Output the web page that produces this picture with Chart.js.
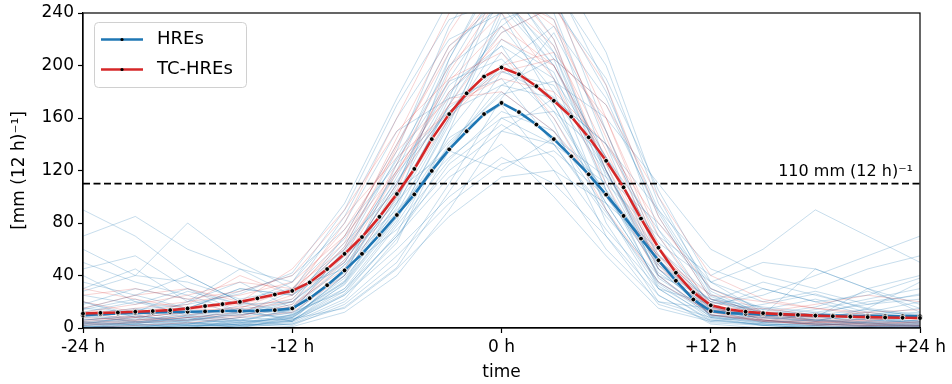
<!DOCTYPE html>
<html>
<head>
<meta charset="utf-8">
<script src="https://cdn.jsdelivr.net/npm/chart.js@4.4.1/dist/chart.umd.min.js"></script>
<style>
  html, body { margin: 0; padding: 0; background: #fff; }
  #wrap { width: 952px; height: 384px; }
</style>
</head>
<body>
<div id="wrap"><canvas id="rainChart"></canvas></div>
<script>
// hourly composite, -24 h .. +24 h
const hours = [-24, -23, -22, -21, -20, -19, -18, -17, -16, -15, -14, -13, -12,
  -11, -10, -9, -8, -7, -6, -5, -4, -3, -2, -1, 0,
  1, 2, 3, 4, 5, 6, 7, 8, 9, 10, 11, 12,
  13, 14, 15, 16, 17, 18, 19, 20, 21, 22, 23, 24];

const hres = [9.7, 10.5, 11, 11.5, 11.8, 12.2, 12.4, 12.6, 12.9, 12.9, 13.1, 13.6, 14.9,
  22.7, 32.6, 43.9, 56.5, 70.9, 86.1, 101.8, 119.7, 136.1, 149.9, 163, 171.5,
  164.5, 155, 143.9, 130.8, 117.1, 101.6, 85.4, 68.1, 51.6, 36, 21.7, 12.9,
  11.3, 10.8, 10.4, 10.1, 9.9, 9.7, 9.5, 9.3, 9.2, 9.1, 9, 8.9];

const tcHres = [11, 11.5, 11.8, 12.4, 12.9, 13.6, 14.9, 16.7, 18.2, 19.9, 22.6, 25.5, 28.3,
  34.7, 44.9, 56.5, 69.3, 84.7, 102.1, 121.2, 143.9, 163, 178.8, 191.6, 198.5,
  193.3, 184.2, 173.1, 161, 145.3, 127.4, 107.2, 83.4, 61.2, 42.1, 27.2, 17.3,
  14.3, 12.4, 11.3, 10.6, 10, 9.4, 9, 8.6, 8.3, 8, 7.8, 7.6];

// individual events (3-hourly)
const eventHours = [-24, -21, -18, -15, -12, -9, -6, -3, 0, 3, 6, 9, 12, 15, 18, 21, 24];

const hreEvent01 = [2, 5, 3, 8, 6, 30, 80, 140, 180, 150, 90, 30, 5, 3, 2, 4, 1];
const hreEvent02 = [10, 15, 8, 12, 20, 50, 110, 190, 250, 210, 120, 40, 10, 8, 12, 6, 5];
const hreEvent03 = [0, 2, 1, 3, 5, 25, 60, 100, 130, 110, 70, 25, 4, 2, 0, 1, 0];
const hreEvent04 = [30, 45, 20, 35, 15, 40, 95, 160, 210, 170, 100, 55, 20, 35, 25, 15, 10];
const hreEvent05 = [5, 3, 10, 6, 12, 60, 130, 200, 230, 180, 80, 20, 8, 4, 6, 3, 2];
const hreEvent06 = [60, 40, 80, 50, 30, 45, 75, 120, 150, 140, 110, 70, 40, 60, 90, 70, 50];
const hreEvent07 = [1, 1, 2, 2, 3, 20, 55, 95, 125, 135, 100, 45, 10, 5, 3, 2, 2];
const hreEvent08 = [15, 25, 40, 20, 10, 35, 85, 145, 170, 120, 60, 20, 15, 30, 20, 10, 15];
const hreEvent09 = [0, 0, 5, 0, 8, 40, 100, 170, 260, 190, 90, 25, 3, 0, 2, 0, 1];
const hreEvent10 = [20, 10, 15, 30, 25, 55, 90, 130, 160, 165, 130, 75, 30, 15, 10, 20, 25];
const hreEvent11 = [3, 8, 4, 2, 10, 30, 70, 115, 140, 100, 55, 15, 5, 10, 45, 30, 12];
const hreEvent12 = [40, 20, 10, 15, 5, 25, 65, 150, 200, 160, 95, 35, 12, 8, 5, 15, 35];
const hreEvent13 = [8, 12, 6, 10, 18, 70, 140, 215, 245, 200, 120, 50, 15, 10, 8, 6, 4];
const hreEvent14 = [2, 4, 8, 5, 7, 15, 45, 85, 115, 120, 95, 60, 25, 12, 6, 4, 3];
const hreEvent15 = [90, 70, 40, 20, 12, 28, 70, 125, 155, 130, 75, 30, 18, 25, 40, 55, 70];
const hreEvent16 = [4, 2, 3, 6, 5, 45, 115, 185, 215, 155, 70, 18, 6, 3, 2, 5, 8];
const hreEvent17 = [25, 18, 30, 12, 22, 65, 105, 135, 120, 145, 115, 80, 35, 20, 28, 18, 22];
const hreEvent18 = [0, 3, 0, 6, 2, 18, 50, 110, 175, 225, 150, 60, 8, 2, 4, 1, 3];
const hreEvent19 = [12, 6, 20, 45, 35, 80, 150, 175, 190, 140, 85, 40, 22, 12, 8, 30, 18];
const hreEvent20 = [6, 10, 4, 3, 9, 38, 88, 160, 235, 250, 180, 90, 28, 10, 6, 9, 5];
const hreEvent21 = [4, 6, 9, 5, 14, 55, 120, 205, 280, 240, 140, 45, 10, 6, 3, 5, 4];
const hreEvent22 = [18, 30, 22, 10, 16, 48, 98, 170, 230, 260, 200, 95, 30, 14, 9, 12, 20];
const hreEvent23 = [1, 3, 2, 4, 8, 35, 92, 175, 270, 210, 110, 30, 6, 2, 1, 0, 2];
const hreEvent24 = [35, 25, 15, 28, 40, 75, 125, 165, 185, 175, 140, 90, 45, 30, 20, 25, 38];
const hreEvent25 = [7, 4, 12, 9, 20, 62, 135, 230, 290, 255, 150, 52, 14, 7, 9, 4, 6];
const hreEvent26 = [0, 1, 3, 2, 4, 22, 68, 135, 195, 185, 120, 48, 9, 3, 1, 2, 0];
const hreEvent27 = [14, 22, 9, 17, 11, 42, 108, 198, 265, 235, 125, 38, 12, 18, 26, 14, 9];
const hreEvent28 = [50, 35, 25, 12, 8, 33, 82, 158, 220, 195, 105, 42, 16, 9, 14, 22, 30];
const hreEvent29 = [3, 9, 6, 11, 28, 85, 160, 220, 240, 170, 95, 35, 10, 4, 7, 3, 1];
const hreEvent30 = [9, 5, 7, 4, 6, 26, 72, 150, 240, 280, 210, 100, 26, 8, 5, 7, 11];
const hreEvent31 = [15, 12, 28, 18, 35, 90, 170, 235, 250, 200, 130, 60, 20, 12, 10, 14, 9];
const hreEvent32 = [2, 0, 1, 3, 1, 12, 40, 90, 150, 175, 140, 70, 14, 4, 2, 1, 0];
const hreEvent33 = [70, 85, 60, 45, 25, 50, 110, 180, 215, 190, 130, 65, 35, 50, 45, 30, 40];
const hreEvent34 = [5, 7, 3, 8, 16, 58, 118, 165, 200, 230, 175, 85, 22, 9, 5, 3, 6];
const hreEvent35 = [11, 4, 6, 15, 9, 36, 95, 205, 275, 220, 115, 40, 8, 5, 11, 8, 3];
const hreEvent36 = [0, 5, 2, 1, 6, 28, 78, 128, 165, 150, 105, 52, 18, 6, 3, 2, 1];
const hreEvent37 = [28, 40, 35, 22, 30, 68, 128, 188, 205, 165, 100, 48, 22, 16, 12, 18, 26];
const hreEvent38 = [3, 2, 6, 4, 10, 44, 102, 178, 225, 245, 190, 105, 35, 12, 6, 4, 2];
const hreEvent39 = [9, 14, 18, 26, 42, 95, 175, 250, 265, 215, 120, 45, 14, 9, 6, 10, 12];
const hreEvent40 = [1, 0, 2, 1, 3, 16, 46, 104, 160, 140, 88, 34, 7, 2, 0, 1, 2];
const hreEvent41 = [45, 55, 30, 18, 20, 52, 96, 142, 178, 188, 160, 110, 60, 40, 30, 45, 55];
const hreEvent42 = [6, 9, 5, 12, 7, 40, 125, 210, 255, 205, 105, 32, 9, 6, 4, 7, 5];
const hreEvent43 = [20, 8, 12, 6, 14, 48, 88, 138, 185, 205, 170, 88, 24, 10, 16, 28, 15];
const hreEvent44 = [4, 3, 8, 2, 5, 34, 84, 155, 245, 265, 185, 75, 16, 5, 3, 2, 4];
const hreEvent45 = [12, 20, 15, 30, 25, 60, 112, 168, 196, 176, 118, 56, 20, 14, 22, 12, 8];

const tcEvent01 = [10, 15, 20, 25, 35, 70, 140, 210, 260, 230, 150, 60, 15, 8, 6, 5, 4];
const tcEvent02 = [5, 8, 12, 15, 30, 60, 120, 180, 220, 200, 130, 50, 10, 5, 3, 2, 2];
const tcEvent03 = [20, 12, 18, 40, 25, 80, 160, 240, 270, 220, 120, 45, 20, 10, 8, 12, 6];
const tcEvent04 = [3, 5, 8, 10, 15, 50, 110, 170, 190, 180, 140, 80, 30, 12, 5, 3, 2];
const tcEvent05 = [15, 25, 30, 20, 45, 90, 150, 190, 210, 160, 90, 35, 12, 15, 10, 8, 10];
const tcEvent06 = [0, 2, 4, 8, 12, 40, 100, 160, 200, 210, 160, 70, 18, 6, 2, 1, 0];
const tcEvent07 = [8, 6, 10, 14, 20, 55, 125, 200, 240, 190, 110, 40, 10, 6, 4, 6, 8];
const tcEvent08 = [12, 18, 25, 35, 30, 75, 135, 175, 180, 150, 100, 55, 25, 20, 15, 10, 8];
const tcEvent09 = [6, 9, 14, 18, 28, 65, 145, 225, 285, 250, 160, 62, 16, 7, 5, 4, 3];
const tcEvent10 = [25, 30, 22, 28, 40, 85, 130, 165, 195, 205, 170, 100, 40, 22, 15, 12, 14];
const tcEvent11 = [2, 4, 6, 9, 18, 45, 105, 195, 255, 235, 145, 55, 12, 5, 3, 2, 1];
const tcEvent12 = [10, 8, 12, 16, 22, 62, 138, 215, 250, 215, 135, 52, 14, 9, 7, 6, 9];
const tcEvent13 = [30, 22, 15, 12, 25, 70, 120, 170, 225, 245, 185, 85, 22, 12, 18, 25, 20];
const tcEvent14 = [4, 6, 8, 12, 16, 52, 118, 188, 230, 200, 125, 48, 12, 6, 4, 3, 5];

const hreEvents = [hreEvent01, hreEvent02, hreEvent03, hreEvent04, hreEvent05, hreEvent06, hreEvent07,
  hreEvent08, hreEvent09, hreEvent10, hreEvent11, hreEvent12, hreEvent13, hreEvent14, hreEvent15,
  hreEvent16, hreEvent17, hreEvent18, hreEvent19, hreEvent20, hreEvent21, hreEvent22, hreEvent23,
  hreEvent24, hreEvent25, hreEvent26, hreEvent27, hreEvent28, hreEvent29, hreEvent30, hreEvent31,
  hreEvent32, hreEvent33, hreEvent34, hreEvent35, hreEvent36, hreEvent37, hreEvent38, hreEvent39,
  hreEvent40, hreEvent41, hreEvent42, hreEvent43, hreEvent44, hreEvent45];
const tcEvents = [tcEvent01, tcEvent02, tcEvent03, tcEvent04, tcEvent05, tcEvent06, tcEvent07,
  tcEvent08, tcEvent09, tcEvent10, tcEvent11, tcEvent12, tcEvent13, tcEvent14];

const threshold = 110;
const thresholdLabel = "110 mm (12 h)\u207B\u00B9";
const xTicks = [-24, -12, 0, 12, 24];
const xTickLabels = ["-24 h", "-12 h", "0 h", "+12 h", "+24 h"];
const yTicks = [0, 40, 80, 120, 160, 200, 240];

const BLUE = "#1f77b4";
const RED = "#d62728";
const FONT = "'DejaVu Sans', sans-serif";

const toPoints = (xs, ys) => xs.map((x, i) => ({ x: x, y: ys[i] }));

const eventDataset = (values, color) => ({
  data: toPoints(eventHours, values),
  borderColor: color,
  borderWidth: 1,
  pointRadius: 0,
  tension: 0,
  clip: 0,
  order: 5,
});

const mainDataset = (label, values, color) => ({
  label: label,
  data: toPoints(hours, values),
  borderColor: color,
  borderWidth: 2.6,
  pointRadius: 2.4,
  pointBackgroundColor: "#000",
  pointBorderColor: "#fff",
  pointBorderWidth: 0.8,
  tension: 0,
  clip: 4,
  order: 0,
});

const frameAndText = {
  id: "frameAndText",
  afterDatasetsDraw(chart) {
    const { ctx, chartArea: a, scales } = chart;
    ctx.save();
    ctx.strokeStyle = "#000";
    ctx.lineWidth = 1.2;
    ctx.strokeRect(a.left, a.top, a.right - a.left, a.bottom - a.top);

    // threshold annotation
    ctx.fillStyle = "#000";
    ctx.font = "16px " + FONT;
    ctx.textAlign = "right";
    ctx.textBaseline = "alphabetic";
    ctx.fillText(thresholdLabel, a.right - 7, scales.y.getPixelForValue(threshold) - 8);

    // legend box
    const bx = 94.5, by = 22.5, bw = 152, bh = 65;
    ctx.fillStyle = "rgba(255,255,255,0.85)";
    ctx.strokeStyle = "#d0d0d0";
    ctx.lineWidth = 1;
    ctx.beginPath();
    ctx.roundRect(bx, by, bw, bh, 4);
    ctx.fill();
    ctx.stroke();
    const entries = [["HREs", BLUE, 39.5], ["TC-HREs", RED, 69.5]];
    entries.forEach(([label, color, y]) => {
      ctx.strokeStyle = color;
      ctx.lineWidth = 2.6;
      ctx.beginPath();
      ctx.moveTo(101, y);
      ctx.lineTo(143, y);
      ctx.stroke();
      ctx.fillStyle = "#000";
      ctx.beginPath();
      ctx.arc(122, y, 1.6, 0, Math.PI * 2);
      ctx.fill();
      ctx.font = "18px " + FONT;
      ctx.textAlign = "left";
      ctx.textBaseline = "middle";
      ctx.fillText(label, 157, y);
    });
    ctx.restore();
  },
};

const datasets = [
  mainDataset("TC-HREs", tcHres, RED),
  mainDataset("HREs", hres, BLUE),
  {
    label: "threshold",
    data: [{ x: -24, y: threshold }, { x: 24, y: threshold }],
    borderColor: "#000",
    borderWidth: 1.8,
    borderDash: [7, 3.5],
    pointRadius: 0,
    order: 1,
  },
  ...tcEvents.map((v) => eventDataset(v, "rgba(214,39,40,0.2)")),
  ...hreEvents.map((v) => eventDataset(v, "rgba(31,119,180,0.25)")),
];

const createChart = () => {
  const ctx = document.getElementById("rainChart").getContext("2d");
  new Chart(ctx, {
    type: "line",
    data: { datasets: datasets },
    options: {
      responsive: true,
      maintainAspectRatio: false,
      animation: false,
      layout: { padding: { left: 0, right: 32, top: 13, bottom: 0 } },
      plugins: {
        legend: { display: false },
        tooltip: { enabled: false },
      },
      scales: {
        x: {
          type: "linear",
          min: -24,
          max: 24,
          afterBuildTicks: (scale) => {
            scale.ticks = xTicks.map((v) => ({ value: v }));
          },
          afterFit: (scale) => {
            scale.height = 56;
            scale.paddingLeft = 0;
            scale.paddingRight = 0;
          },
          ticks: {
            color: "#000",
            font: { family: FONT, size: 17 },
            padding: 4,
            maxRotation: 0,
            callback: (value) => xTickLabels[xTicks.indexOf(value)],
          },
          grid: { drawOnChartArea: false, drawTicks: true, tickLength: 5, color: "#000", tickWidth: 1.2 },
          border: { color: "#000", width: 1.2 },
          title: {
            display: true,
            text: "time",
            color: "#000",
            font: { family: FONT, size: 17 },
            padding: { top: 0, bottom: 1 },
          },
        },
        y: {
          min: 0,
          max: 240,
          afterBuildTicks: (scale) => {
            scale.ticks = yTicks.map((v) => ({ value: v }));
          },
          afterFit: (scale) => {
            scale.width = 83;
            scale.paddingTop = 0;
            scale.paddingBottom = 0;
          },
          ticks: {
            color: "#000",
            font: { family: FONT, size: 17 },
            padding: 4,
          },
          grid: { drawOnChartArea: false, drawTicks: true, tickLength: 5, color: "#000", tickWidth: 1.2 },
          border: { color: "#000", width: 1.2 },
          title: {
            display: true,
            text: "[mm (12 h)\u207B\u00B9]",
            color: "#000",
            font: { family: FONT, size: 17 },
            padding: { top: 9, bottom: 0 },
          },
        },
      },
    },
    plugins: [frameAndText],
  });
};

document.addEventListener("DOMContentLoaded", createChart);
</script>
</body>
</html>
